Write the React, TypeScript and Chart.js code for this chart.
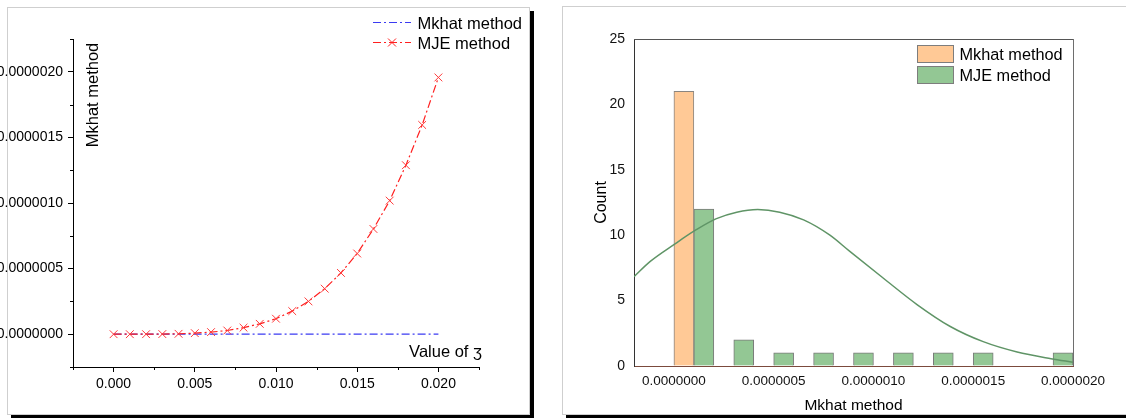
import React, { useEffect, useRef } from "react";
import { Chart, registerables } from "chart.js";

Chart.register(...registerables);

const FONT = "'Liberation Sans', Arial, Helvetica, sans-serif";

// ---------- Left chart data ----------
const zetaValues = [0, 0.001, 0.002, 0.003, 0.004, 0.005, 0.006, 0.007, 0.008, 0.009, 0.01, 0.011, 0.012, 0.013, 0.014, 0.015, 0.016, 0.017, 0.018, 0.019, 0.02];
const mkhatValues = [0, 0, 0, 0, 0, 0, 0, 0, 0, 0, 0, 0, 0, 0, 0, 0, 0, 0, 0, 0, 0];
const mjeValues = [0, 0, 2e-10, 1e-9, 3e-9, 8e-9, 1.6e-8, 2.8e-8, 5e-8, 7.9e-8, 1.18e-7, 1.76e-7, 2.5e-7, 3.47e-7, 4.67e-7, 6.15e-7, 8.02e-7, 1.018e-6, 1.288e-6, 1.595e-6, 1.957e-6];
const leftXTickLabels = [0, 0.005, 0.01, 0.015, 0.02];
const leftXMinorTicks = [-0.0025, 0.0025, 0.0075, 0.0125, 0.0175, 0.0225];
const leftYTickLabels = [0, 5e-7, 1e-6, 1.5e-6, 2e-6];
const leftYMinorTicks = [-2.5e-7, 2.5e-7, 7.5e-7, 1.25e-6, 1.75e-6, 2.25e-6];

// ---------- Right chart data ----------
const binCenters = [1e-7, 3e-7, 5e-7, 7e-7, 9e-7, 1.1e-6, 1.3e-6, 1.5e-6, 1.7e-6, 1.9e-6];
const mkhatCounts = [21, 0, 0, 0, 0, 0, 0, 0, 0, 0];
const mjeCounts = [12, 2, 1, 1, 1, 1, 1, 1, 0, 1];
const curveX = [-2e-7, -1.2e-7, 0, 1.1e-7, 2.1e-7, 3.15e-7, 4.2e-7, 5.3e-7, 6.5e-7, 7.8e-7, 8.8e-7, 1.05e-6, 1.22e-6, 1.385e-6, 1.55e-6, 1.72e-6, 1.89e-6, 2e-6];
const curveY = [6.83, 7.98, 9.28, 10.4, 11.25, 11.76, 11.96, 11.76, 11.17, 10.02, 8.78, 6.71, 4.68, 3.02, 1.86, 1.07, 0.56, 0.29];
const rightXTickLabels = [0, 5e-7, 1e-6, 1.5e-6, 2e-6];
const rightYTickLabels = [0, 5, 10, 15, 20, 25];

const BLUE = "#3b3bf2";
const RED = "#ff1f1f";
const ORANGE = "#ffc996";
const GREEN = "#93c794";
const CURVE = "#5f9466";

const near = (v: number, list: number[], tol: number) => list.some((t) => Math.abs(t - v) < tol);
const fmt = (v: number, d: number) => (Math.abs(v) < 1e-12 ? 0 : v).toFixed(d);
const setTicks = (list: number[]) => (s: any) => {
  s.ticks = [...list].sort((a, b) => a - b).map((value) => ({ value }));
};

const leftOverlay = {
  id: "leftOverlay",
  afterDraw(chart: any) {
    const ctx = chart.ctx;
    const xs = chart.scales.x;
    const ys = chart.scales.y;
    ctx.save();
    // minor ticks
    ctx.strokeStyle = "#000";
    ctx.lineWidth = 1;
    ctx.beginPath();
    leftXMinorTicks.forEach((v) => {
      const px = Math.round(xs.getPixelForValue(v)) + 0.5;
      ctx.moveTo(px, xs.top);
      ctx.lineTo(px, xs.top + 3);
    });
    leftYMinorTicks.forEach((v) => {
      const py = Math.round(ys.getPixelForValue(v)) + 0.5;
      ctx.moveTo(ys.right, py);
      ctx.lineTo(ys.right - 3, py);
    });
    ctx.stroke();

    // legend
    const items = [
      { label: "Mkhat method", color: BLUE, y: 22.5, marker: false },
      { label: "MJE method", color: RED, y: 42.5, marker: true },
    ];
    ctx.font = `16.5px ${FONT}`;
    ctx.textBaseline = "alphabetic";
    ctx.textAlign = "left";
    items.forEach((it) => {
      ctx.strokeStyle = it.color;
      ctx.lineWidth = 1.2;
      ctx.setLineDash([8, 3, 2, 3]);
      ctx.beginPath();
      ctx.moveTo(373, it.y);
      ctx.lineTo(411, it.y);
      ctx.stroke();
      ctx.setLineDash([]);
      if (it.marker) {
        ctx.lineWidth = 1;
        ctx.beginPath();
        ctx.moveTo(388, it.y - 4);
        ctx.lineTo(396, it.y + 4);
        ctx.moveTo(396, it.y - 4);
        ctx.lineTo(388, it.y + 4);
        ctx.stroke();
      }
      ctx.fillStyle = "#000";
      ctx.fillText(it.label, 417.5, it.y + 6);
    });

    // axis titles inside the plot
    ctx.font = `16.5px ${FONT}`;
    ctx.fillStyle = "#000";
    ctx.save();
    ctx.translate(97.5, 95);
    ctx.rotate(-Math.PI / 2);
    ctx.textAlign = "center";
    ctx.textBaseline = "alphabetic";
    ctx.fillText("Mkhat method", 0, 0);
    ctx.restore();
    ctx.textAlign = "right";
    ctx.textBaseline = "alphabetic";
    ctx.fillText("Value of \u0292", 482, 357);
    ctx.restore();
  },
};

const rightOverlay = {
  id: "rightOverlay",
  afterDraw(chart: any) {
    const ctx = chart.ctx;
    const a = chart.chartArea;
    ctx.save();
    ctx.lineWidth = 1;
    ctx.strokeStyle = "#555";
    ctx.beginPath();
    ctx.moveTo(Math.round(a.left), Math.round(a.top) + 0.5);
    ctx.lineTo(Math.round(a.right) + 0.5, Math.round(a.top) + 0.5);
    ctx.stroke();
    ctx.strokeStyle = "#6e6e6e";
    ctx.beginPath();
    ctx.moveTo(Math.round(a.right) + 0.5, Math.round(a.top));
    ctx.lineTo(Math.round(a.right) + 0.5, Math.round(a.bottom));
    ctx.stroke();

    // legend
    const items = [
      { label: "Mkhat method", color: ORANGE, y: 45 },
      { label: "MJE method", color: GREEN, y: 66 },
    ];
    ctx.font = `16.3px ${FONT}`;
    ctx.textAlign = "left";
    ctx.textBaseline = "alphabetic";
    items.forEach((it) => {
      ctx.fillStyle = it.color;
      ctx.fillRect(355, it.y, 37, 18);
      ctx.strokeStyle = "#7d7d7d";
      ctx.strokeRect(355.5, it.y + 0.5, 36, 17);
      ctx.fillStyle = "#000";
      ctx.fillText(it.label, 397.5, it.y + 15);
    });

    // axis titles
    ctx.font = `15.5px ${FONT}`;
    ctx.fillStyle = "#000";
    ctx.textAlign = "center";
    ctx.fillText("Mkhat method", (a.left + a.right) / 2, 410);
    ctx.save();
    ctx.translate(44, (a.top + a.bottom) / 2);
    ctx.rotate(-Math.PI / 2);
    ctx.font = `16px ${FONT}`;
    ctx.fillText("Count", 0, 0);
    ctx.restore();
    ctx.restore();
  },
};

export default function App() {
  const leftRef = useRef<HTMLCanvasElement>(null);
  const rightRef = useRef<HTMLCanvasElement>(null);

  useEffect(() => {
    const left = new Chart(leftRef.current as HTMLCanvasElement, {
      type: "line",
      data: {
        datasets: [
          {
            label: "MJE method",
            data: zetaValues.map((x, i) => ({ x, y: mjeValues[i] })),
            borderColor: RED,
            borderWidth: 1.2,
            borderDash: [8, 3, 2, 3],
            pointStyle: "crossRot",
            pointRadius: 5.5,
            pointBorderColor: "#ff3a3a",
            pointBackgroundColor: "rgba(0,0,0,0)",
            pointBorderWidth: 1,
            tension: 0,
            order: 0,
          },
          {
            label: "Mkhat method",
            data: zetaValues.map((x, i) => ({ x, y: mkhatValues[i] })),
            borderColor: BLUE,
            borderWidth: 1.2,
            borderDash: [8, 3, 2, 3],
            pointRadius: 0,
            order: 1,
          },
        ],
      },
      options: {
        responsive: false,
        animation: false,
        layout: { padding: { top: 39, right: 51, left: 0, bottom: 0 } },
        plugins: { legend: { display: false }, tooltip: { enabled: false } },
        scales: {
          x: {
            type: "linear",
            min: -0.0025,
            max: 0.0225,
            afterBuildTicks: setTicks(leftXTickLabels),
            afterFit: (s: any) => {
              s.height = 51;
            },
            ticks: {
              autoSkip: false,
              maxRotation: 0,
              padding: 4,
              color: "#000",
              font: { family: FONT, size: 14 },
              callback: (v: any) => fmt(Number(v), 3),
            },
            grid: { drawOnChartArea: false, drawTicks: true, tickLength: 5, tickColor: "#000" },
            border: { display: true, color: "#000", width: 1 },
          },
          y: {
            type: "linear",
            min: -2.5e-7,
            max: 2.25e-6,
            afterBuildTicks: setTicks(leftYTickLabels),
            afterFit: (s: any) => {
              s.width = 73;
            },
            ticks: {
              autoSkip: false,
              padding: 5,
              color: "#000",
              font: { family: FONT, size: 14 },
              callback: (v: any) => fmt(Number(v), 7),
            },
            grid: { drawOnChartArea: false, drawTicks: true, tickLength: 5, tickColor: "#000" },
            border: { display: true, color: "#000", width: 1 },
          },
        },
      } as any,
      plugins: [leftOverlay],
    } as any);

    const right = new Chart(rightRef.current as HTMLCanvasElement, {
      type: "bar",
      data: {
        datasets: [
          {
            type: "line",
            label: "Normal",
            data: curveX.map((x, i) => ({ x, y: curveY[i] })),
            borderColor: CURVE,
            borderWidth: 1.5,
            pointRadius: 0,
            cubicInterpolationMode: "monotone",
            order: 0,
          },
          {
            type: "bar",
            label: "Mkhat method",
            data: binCenters.map((x, i) => ({ x, y: mkhatCounts[i] })),
            backgroundColor: ORANGE,
            borderColor: "#8a8580",
            borderWidth: 1,
            barPercentage: 1,
            categoryPercentage: 1,
            order: 1,
          },
          {
            type: "bar",
            label: "MJE method",
            data: binCenters.map((x, i) => ({ x, y: mjeCounts[i] })),
            backgroundColor: GREEN,
            borderColor: "#7a7a7a",
            borderWidth: 1,
            barPercentage: 1,
            categoryPercentage: 1,
            order: 1,
          },
        ],
      },
      options: {
        responsive: false,
        animation: false,
        layout: { padding: { top: 39, right: 53, left: 0, bottom: 0 } },
        plugins: { legend: { display: false }, tooltip: { enabled: false } },
        scales: {
          x: {
            type: "linear",
            offset: false,
            min: -2e-7,
            max: 2e-6,
            afterBuildTicks: setTicks(rightXTickLabels),
            afterFit: (s: any) => {
              s.height = 52;
            },
            ticks: {
              autoSkip: false,
              maxRotation: 0,
              padding: 7,
              color: "#111",
              font: { family: FONT, size: 13.5 },
              callback: (v: any) => fmt(Number(v), 7),
            },
            grid: { drawOnChartArea: false, drawTicks: false, offset: false },
            border: { display: true, color: "#7b4a3c", width: 1 },
          },
          y: {
            type: "linear",
            min: 0,
            max: 25,
            afterBuildTicks: setTicks(rightYTickLabels),
            afterFit: (s: any) => {
              s.width = 72;
            },
            ticks: {
              padding: 9,
              color: "#111",
              font: { family: FONT, size: 14 },
              callback: (v: any) => String(Math.round(Number(v))),
            },
            grid: { drawOnChartArea: false, drawTicks: false },
            border: { display: true, color: "#333", width: 1 },
          },
        },
      } as any,
      plugins: [rightOverlay],
    } as any);

    return () => {
      left.destroy();
      right.destroy();
    };
  }, []);

  return (
    <div style={{ position: "fixed", left: 0, top: 0, width: 1126, height: 418, background: "#fff", overflow: "hidden" }}>
      <div
        style={{
          position: "absolute",
          left: 7,
          top: 7,
          width: 523,
          height: 408,
          boxSizing: "border-box",
          border: "1px solid #cfcfcf",
          boxShadow: "4px 4px 0 #000",
          background: "#fff",
        }}
      />
      <div
        style={{
          position: "absolute",
          left: 562,
          top: 6,
          width: 600,
          height: 409,
          boxSizing: "border-box",
          border: "1px solid #cfcfcf",
          boxShadow: "4px 4px 0 #000",
          background: "#fff",
        }}
      />
      <canvas ref={leftRef} width={530} height={418} style={{ position: "absolute", left: 0, top: 0, width: 530, height: 418 }} />
      <canvas ref={rightRef} width={564} height={418} style={{ position: "absolute", left: 562, top: 0, width: 564, height: 418 }} />
    </div>
  );
}
